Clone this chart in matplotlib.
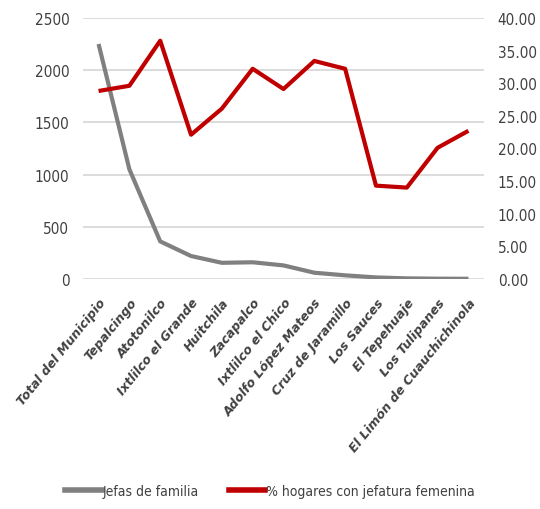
import matplotlib
matplotlib.use('Agg')
import matplotlib.pyplot as plt
from matplotlib.lines import Line2D

localidades = [
    'Total del Municipio', 'Tepalcingo', 'Atotonilco', 'Ixtlilco el Grande',
    'Huitchila', 'Zacapalco', 'Ixtlilco el Chico', 'Adolfo López Mateos',
    'Cruz de Jaramillo', 'Los Sauces', 'El Tepehuaje', 'Los Tulipanes',
    'El Limón de Cuauchichinola',
]
jefas = [2250, 1050, 360, 220, 155, 160, 130, 60, 35, 15, 6, 3, 2]
pct_jefatura = [28.8, 29.6, 36.5, 22.1, 26.1, 32.2, 29.1, 33.4, 32.2,
                14.3, 14.0, 20.1, 22.7]

left_ticks = [0, 500, 1000, 1500, 2000, 2500]
right_ticks = [0, 5, 10, 15, 20, 25, 30, 35, 40]

gray = '#808080'
red = '#C00000'
plt.rcParams['font.family'] = ['DejaVu Sans']
plt.rcParams['font.stretch'] = 'condensed'

fig = plt.figure(figsize=(5.4, 5.1), dpi=100)
ax = fig.add_axes([0.154, 0.451, 0.742, 0.512])
ax2 = ax.twinx()

x = range(len(localidades))
ax.plot(x, jefas, color=gray, lw=3.0, solid_capstyle='butt', zorder=3)
ax2.plot(x, pct_jefatura, color=red, lw=3.0, solid_capstyle='butt', zorder=3)

ax.set_xlim(-0.5, len(localidades) - 0.5)
ax.set_ylim(0, 2500)
ax2.set_ylim(0, 40)
ax.set_yticks(left_ticks)
ax2.set_yticks(right_ticks)
ax2.set_yticklabels(['%.2f' % v for v in right_ticks])
ax.yaxis.grid(True, color='#D9D9D9', lw=1.3)
ax.set_axisbelow(True)

for a in (ax, ax2):
    for s in a.spines.values():
        s.set_visible(False)
    a.tick_params(length=0, labelsize=11, labelcolor='#404040', pad=10)

ax.set_xticks(list(x))
ax.set_xticklabels(localidades, rotation=51, ha='right', rotation_mode='anchor',
                   fontsize=9, fontweight='bold', fontstyle='italic',
                   fontstretch='normal', color='#404040')
ax.tick_params(axis='x', pad=12)

handles = [Line2D([], [], color=gray, lw=4), Line2D([], [], color=red, lw=4)]
fig.legend(handles, ['Jefas de familia', '% hogares con jefatura femenina'],
           loc='center', bbox_to_anchor=(0.5, 0.035), ncol=2, frameon=False,
           fontsize=10, handlelength=2.6, handletextpad=0.05, columnspacing=2.2,
           labelcolor='#404040')

fig.savefig('out.png', dpi=100)
